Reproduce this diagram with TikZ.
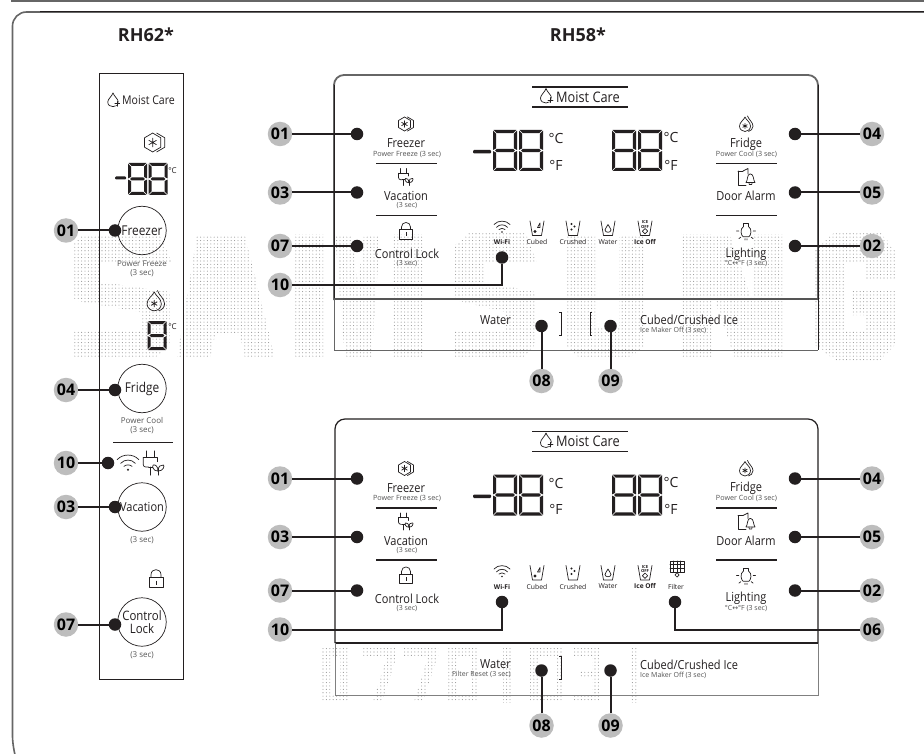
\documentclass[tikz,border=0pt]{standalone}
\usepackage{fontspec}
\setmainfont{Open Sans}[FakeStretch=0.88]
\newfontfamily\wide{Open Sans}
\newfontfamily\arrowfnt{DejaVu Sans}
\usetikzlibrary{patterns.meta,calc}
\definecolor{ink}{HTML}{231F20}
\definecolor{badgegray}{HTML}{BDBDBD}
\definecolor{frame}{HTML}{666666}
\definecolor{soft}{HTML}{555555}
\newcounter{tc}
\newcommand\T[5][]{\stepcounter{tc}\node[name=t\arabic{tc},inner sep=0,text=ink,font=\fontsize{#4}{#4}\selectfont,#1] at (#2,#3) {#5};}
\tikzset{
  ic/.style={draw=ink,line width=.7pt,line cap=round,line join=round},
  badge/.style={circle,fill=badgegray,minimum size=24.5pt,inner sep=0,text=black,font=\wide\fontsize{16}{16}\selectfont\bfseries},
  dotn/.style={circle,fill=ink,minimum size=12.5pt,inner sep=0},
  conn/.style={draw=ink,line width=2pt},
  sepl/.style={draw=ink,line width=1.8pt},
  wm/.style={pattern={Dots[radius=0.55pt,distance=3.4pt]},pattern color=gray!80},
  knob/.style={circle,draw=ink,line width=.7pt,minimum size=48.5pt,inner sep=0,text=ink,align=center,font=\fontsize{13.5}{14.5}\selectfont},
}
% seven segment digit: x y w h t
\newcommand\sevseg[5]{\begin{scope}[shift={(#1,#2)}]
 \def\sw{#3}\def\sh{#4}\def\st{#5}\def\sg{.6}
 \fill[ink] ({\sg},0)--({\sw-\sg},0)--({\sw-\sg-\st},\st)--({\sg+\st},\st)--cycle;
 \fill[ink] ({\sg},\sh)--({\sw-\sg},\sh)--({\sw-\sg-\st},{\sh-\st})--({\sg+\st},{\sh-\st})--cycle;
 \fill[ink] (0,\sg)--(\st,{\sg+\st})--(\st,{\sh/2-\sg-\st/2})--(0,{\sh/2-\sg})--cycle;
 \fill[ink] (\sw,\sg)--({\sw-\st},{\sg+\st})--({\sw-\st},{\sh/2-\sg-\st/2})--(\sw,{\sh/2-\sg})--cycle;
 \fill[ink] (0,{\sh/2+\sg})--(\st,{\sh/2+\sg+\st/2})--(\st,{\sh-\sg-\st})--(0,{\sh-\sg})--cycle;
 \fill[ink] (\sw,{\sh/2+\sg})--({\sw-\st},{\sh/2+\sg+\st/2})--({\sw-\st},{\sh-\sg-\st})--(\sw,{\sh-\sg})--cycle;
 \fill[ink] ({\sg+\st/2},{\sh/2})--({\sg+\st},{\sh/2-\st/2})--({\sw-\sg-\st},{\sh/2-\st/2})--({\sw-\sg-\st/2},{\sh/2})--({\sw-\sg-\st},{\sh/2+\st/2})--({\sg+\st},{\sh/2+\st/2})--cycle;
\end{scope}}
\newcommand\starlet{\draw[ic] (0,-3.2)--(0,3.2) (-2.8,-1.6)--(2.8,1.6) (-2.8,1.6)--(2.8,-1.6);}
\newcommand\icFreezer[3]{\begin{scope}[shift={(#1,#2)},scale=#3]
 \draw[ic] (-1,-7)--(5,-3.5)--(5,3.5)--(-1,7)--(-7,3.5)--(-7,-3.5)--cycle;
 \draw[ic] (2,-7)--(8,-3.5)--(8,3.5)--(2,7);
 \begin{scope}[shift={(-1,0)}]\starlet\end{scope}
\end{scope}}
\newcommand\icFridge[3]{\begin{scope}[shift={(#1,#2)},scale=#3]
 \draw[ic] (-1,-7) .. controls (0,-4) and (4.5,-2) .. (4.5,2.2) .. controls (4.5,5.5) and (1.5,7.5) .. (-1,7.5) .. controls (-3.5,7.5) and (-6.5,5.5) .. (-6.5,2.2) .. controls (-6.5,-2) and (-2,-4) .. (-1,-7) -- cycle;
 \draw[ic] (1.5,-8) .. controls (2.5,-4.5) and (7,-2) .. (7,2.2) .. controls (7,5) and (4.5,7.2) .. (2.5,7.4);
 \begin{scope}[shift={(-1,2)},scale=.8]\starlet\end{scope}
\end{scope}}
\newcommand\icPlug[3]{\begin{scope}[shift={(#1,#2)},scale=#3]
 \draw[ic] (-5.5,-9)--(-5.5,-4) (0,-9)--(0,-4);
 \draw[ic] (-8,-4)--(2.5,-4);
 \draw[ic,rounded corners=2.5pt] (-8,-4)--(-8,3)--(-4,3);
 \draw[ic] (2.5,-4)--(2.5,-1);
 \draw[ic] (-4,3)--(-1,3) (-3,3)--(-3,9);
 \draw[ic] (3,9)--(3,4.5);
 \draw[ic] (3,6) .. controls (-1,6) and (-1.5,2) .. (-.5,1.5) .. controls (1,1) and (3,2.5) .. (3,6);
 \draw[ic] (3,6) .. controls (7,6) and (8,2) .. (7,1.5) .. controls (5,1) and (3,2.5) .. (3,6);
\end{scope}}
\newcommand\icLock[3]{\begin{scope}[shift={(#1,#2)},scale=#3]
 \draw[ic] (-6.5,-1.5) rectangle (6.5,8);
 \draw[ic] (-4.5,-1.5)--(-4.5,-4) .. controls (-4.5,-10) and (4.5,-10) .. (4.5,-4)--(4.5,-1.5);
 \draw[draw=ink,line width=.9pt] (0,1.5)--(0,5);
\end{scope}}
\newcommand\icWifi[3]{\begin{scope}[shift={(#1,#2)},scale=#3]
 \draw[ic] (-8,-2.5) .. controls (-4,-7) and (4,-7) .. (8,-2.5);
 \draw[ic] (-5.5,.3) .. controls (-2.5,-3) and (2.5,-3) .. (5.5,.3);
 \draw[ic] (-3,2.5) .. controls (-1.5,1) and (1.5,1) .. (3,2.5);
 \fill[ink] (0,5) circle[radius=.8];
\end{scope}}
\newcommand\icGlass[3]{\begin{scope}[shift={(#1,#2)},scale=#3]
 \draw[ic] (-7,-7)--(-4.5,7.5)--(4.5,7.5)--(7,-7);
\end{scope}}
\newcommand\icCube[2]{\icGlass{#1}{#2}{1}
 \draw[ic] ({#1+3},{#2-5})--({#1+.5},{#2-.5})--({#1+3},{#2-.5})--cycle;
 \fill[ink] ({#1-2},{#2+3.5}) circle[radius=1.6];}
\newcommand\icCrush[2]{\icGlass{#1}{#2}{1}
 \fill[ink] ({#1-1.5},{#2-4}) circle[radius=1.1];
 \fill[ink] ({#1+1.5},{#2-1.5}) circle[radius=1.1];
 \fill[ink] ({#1-1.5},{#2+1.5}) circle[radius=1.1];}
\newcommand\icWater[2]{\icGlass{#1}{#2}{1}
 \draw[ic] ({#1},{#2-3.5}) .. controls ({#1+1},{#2-1}) and ({#1+3},{#2+.5}) .. ({#1+3},{#2+2}) .. controls ({#1+3},{#2+5}) and ({#1-3},{#2+5}) .. ({#1-3},{#2+2}) .. controls ({#1-3},{#2+.5}) and ({#1-1},{#2-1}) .. ({#1},{#2-3.5});}
\newcommand\icOff[2]{\icGlass{#1}{#2}{1}
 \T[font=\wide\fontsize{4.2}{4.4}\selectfont\bfseries,align=center]{#1}{#2-3.5}{4}{ICE\\OFF}
 \draw[ic] ({#1},{#2+.5})--({#1+2.7},{#2+3.2})--({#1},{#2+6})--({#1-2.7},{#2+3.2})--cycle;}
\newcommand\icDoor[3]{\begin{scope}[shift={(#1,#2)},scale=#3]
 \draw[ic] (-9,-6)--(-9,8)--(-1,8);
 \draw[ic] (-9,-6)--(-4,-6);
 \draw[ic] (-4,-6)--(1,-8.5)--(1,-3);
 \draw[ic] (3,-3) .. controls (0,-3) and (1,3) .. (-1,5.5)--(8,5.5) .. controls (6,3) and (7,-3) .. (3.5,-3);
 \draw[ic] (2,5.5)--(2.2,7.5)--(4.8,7.5)--(5,5.5);
\end{scope}}
\newcommand\icBulb[3]{\begin{scope}[shift={(#1,#2)},scale=#3]
 \draw[ic] (-2.5,-6) .. controls (-7,-3) and (-5,4) .. (-3,5)--(3,5) .. controls (5,4) and (7,-3) .. (2.5,-6);
 \draw[ic] (-2.5,-6)--(-2.5,-9)--(2.5,-9)--(2.5,-6);
 \draw[ic] (-10,-1)--(-7.5,-1) (7.5,-1)--(10,-1) (-7.5,7)--(-5.5,5.5) (7.5,7)--(5.5,5.5) (-1,8.5)--(-1,7) (1,8.5)--(1,7);
\end{scope}}
\newcommand\icMoistDrop[3]{\begin{scope}[shift={(#1,#2)},scale=#3]
 \draw[ic] (0,-7.5) .. controls (1,-4) and (5.5,-1) .. (5.5,2) .. controls (5.5,5.5) and (2.5,7) .. (0,7) .. controls (-3,7) and (-5.5,5.5) .. (-5.5,2) .. controls (-5.5,-1) and (-1,-4) .. (0,-7.5);
 \fill[white] (3,3) circle[radius=2.8];
 \draw[ic] (2,4)--(7,4) (4.5,1.5)--(4.5,6.5);
\end{scope}}
% Shared content of the RH58 control panel
\newcommand\RHpanel[2]{\begin{scope}[shift={(0,#2)}]
 \draw[sepl] (532,87)--(628,87) (532,107)--(628,107);
 \icMoistDrop{546}{96}{1}
 \T[anchor=west]{556}{97}{14.5}{Moist Care}
 \icFreezer{405.5}{124}{1}
 \T{406}{143.5}{12.5}{Freezer}
 \T[text=soft]{407}{154}{7.2}{\wide Power Freeze (3 sec)}
 \draw[sepl] (376,163.5)--(437,163.5) (376,215.5)--(437,215.5);
 \icPlug{406}{177}{.95}
 \T{406}{196}{12.5}{Vacation}
 \T[text=soft]{407}{206}{7}{\wide (3 sec)}
 \icLock{406}{231}{1}
 \T{407}{254}{12.5}{Control Lock}
 \T[text=soft]{407}{264}{7}{\wide (3 sec)}
 \fill[ink,rounded corners=1pt] (473,150) rectangle (491,153.5);
 \sevseg{493}{130}{24}{41}{3.2}
 \sevseg{519}{130}{24}{41}{3.2}
 \sevseg{612}{130}{24}{41}{3.2}
 \sevseg{638}{130}{24}{41}{3.2}
 \T{556}{139}{14}{\wide °C}
 \T{556}{165}{14}{\wide °F}
 \T{671}{138}{14}{\wide °C}
 \T{671}{165}{14}{\wide °F}
 \icWifi{502}{227}{1}
 \T[font=\wide\fontsize{6.6}{6.6}\selectfont\bfseries]{502}{242}{7}{Wi-Fi}
 \icCube{537}{228}
 \T{537}{242}{6.8}{\wide Cubed}
 \icCrush{573}{228}
 \T{573}{242}{6.8}{\wide Crushed}
 \icWater{608}{228}
 \T{608}{242}{6.8}{\wide Water}
 \icOff{645}{228}
 \T[font=\wide\fontsize{6.6}{6.6}\selectfont\bfseries]{645}{242}{7}{Ice Off}
 \icFridge{746}{124}{1}
 \T{746}{144}{12.5}{Fridge}
 \T[text=soft]{746.5}{154}{7.2}{\wide Power Cool (3 sec)}
 \draw[sepl] (716,163.5)--(777,163.5) (716,215.5)--(777,215.5);
 \icDoor{747}{177}{1}
 \T{746}{196}{12.5}{Door Alarm}
 \icBulb{746}{232}{.95}
 \T{746}{254}{12.5}{Lighting}
 \T[text=soft]{746}{264}{7}{\wide °C{\arrowfnt ↔}°F (3 sec)}
 \T[anchor=west]{640}{320}{12.5}{Cubed/Crushed Ice}
 \T[anchor=west,text=soft]{640}{330.5}{7}{\wide Ice Maker Off (3 sec)}
 \draw[ink,line width=.4pt] (559,312)--(561,312)--(561,335)--(559,335);
 % callouts
 \node[dotn] (#1d01) at (357,134) {};   \node[badge] (#1b01) at (280,134) {01};
 \node[dotn] (#1d03) at (357,192.5) {}; \node[badge] (#1b03) at (280,192.5) {03};
 \node[dotn] (#1d07) at (357,246) {};   \node[badge] (#1b07) at (280,246) {07};
 \node[dotn] (#1d10) at (502,257.5) {}; \node[badge] (#1b10) at (280,285) {10};
 \node[dotn] (#1d04) at (795,134) {};   \node[badge] (#1b04) at (872,134) {04};
 \node[dotn] (#1d05) at (795,192.5) {}; \node[badge] (#1b05) at (872,192.5) {05};
 \node[dotn] (#1d02) at (795,246) {};   \node[badge] (#1b02) at (872,246) {02};
 \node[dotn] (#1d08) at (541.5,326) {}; \node[badge] (#1b08) at (541.5,381) {08};
 \node[dotn] (#1d09) at (610.5,326) {}; \node[badge] (#1b09) at (610.5,381) {09};
 \draw[conn] (#1b01)--(#1d01) (#1b03)--(#1d03) (#1b07)--(#1d07);
 \draw[conn] (#1b04)--(#1d04) (#1b05)--(#1d05) (#1b02)--(#1d02);
 \draw[conn] (#1b08)--(#1d08) (#1b09)--(#1d09);
 \draw[conn] (#1b10)--(#1b10-|#1d10)--(#1d10);
\end{scope}}
\begin{document}
\begin{tikzpicture}[x=1pt,y=-1pt]
\useasboundingbox (0,0) rectangle (924,754);
\fill[white] (0,0) rectangle (924,754);
% ---- dotted background lettering
\fill[wm] (82,235)--(160,235)--(172,262)--(100,262)--(100,282)--(170,292)--(170,345)--(155,358)--(72,358)--(72,330)--(140,330)--(140,312)--(72,300)--(72,245)--cycle;
\fill[wm] (197,235)--(245,235)--(275,358)--(245,358)--(240,335)--(215,335)--(210,358)--(177,358)--cycle;
\fill[wm] (295,235) rectangle (323,358);
\fill[wm] (335,235)--(352,235)--(358,285)--(364,235)--(380,235)--(372,358)--(345,358)--cycle;
\fill[wm] (393,235) rectangle (423,358);
\fill[wm] (470,232)--(525,232)--(537,262)--(485,262)--(485,282)--(535,292)--(535,345)--(522,358)--(455,358)--(455,330)--(505,330)--(505,312)--(455,300)--(455,245)--cycle;
\fill[wm] (565,235)--(595,235)--(595,328)--(619,328)--(619,235)--(645,235)--(645,345)--(630,358)--(580,358)--(565,345)--cycle;
\fill[wm] (682,235) rectangle (713,358);
\fill[wm] (752,235) rectangle (782,358);
\fill[wm] (713,235)--(730,235)--(752,300)--(752,358)--(735,358)--(713,295)--cycle;
\fill[wm] (835,232)--(880,232)--(895,250)--(895,280)--(865,280)--(865,262)--(845,262)--(845,330)--(865,330)--(865,315)--(852,315)--(852,290)--(895,290)--(895,345)--(880,360)--(835,360)--(815,345)--(815,250)--cycle;
% lower lettering
\fill[wm,even odd rule] (322,648) rectangle (348,702) (330,656) rectangle (340,694);
\fill[wm] (363,648)--(397,648)--(397,656)--(382,702)--(373,702)--(387,656)--(363,656)--cycle;
\fill[wm] (403,648)--(438,648)--(438,656)--(423,702)--(414,702)--(428,656)--(403,656)--cycle;
\fill[wm,even odd rule] (448,648) rectangle (478,702) (456,656) rectangle (470,694);
\fill[wm] (503,648) rectangle (512,702);
\fill[wm,even odd rule] (530,648) rectangle (563,702) (538,656) rectangle (555,694);
\fill[wm] (572,648)--(600,648)--(600,702)--(572,702)--(572,694)--(592,694)--(592,678)--(580,678)--(580,670)--(592,670)--(592,656)--(572,656)--cycle;
\fill[wm] (630,648) rectangle (637,702);
% ---- outer frame
\draw[frame,line width=1.8pt] (11,.8)--(924,.8);
\draw[frame,line width=1.6pt,rounded corners=14pt] (17,762)--(12.5,750)--(12.5,12)--(932,12);
\draw[ink,line width=.9pt] (40,11.7)--(924,11.7);
% ---- titles
\T[font=\wide\fontsize{18}{18}\selectfont\bfseries]{146}{35}{18}{RH62*}
\T[font=\wide\fontsize{18}{18}\selectfont\bfseries]{578}{35}{18}{RH58*}
% ---- RH62 strip
\draw[ink,line width=1pt] (99.5,74) rectangle (183,679);
\icMoistDrop{113}{100}{.95}
\T[anchor=west]{122}{100}{12}{Moist Care}
\icFreezer{154}{142.5}{1.35}
\fill[ink,rounded corners=1pt] (115,176.5) rectangle (126,179.5);
\sevseg{128}{163}{19}{32}{3}
\sevseg{148.5}{163}{19}{32}{3}
\T{172.5}{170.5}{8}{\wide °C}
\node[knob] (kf) at (142,230.5) {Freezer};
\T[text=soft]{142}{264}{8}{\wide Power Freeze}
\T[text=soft]{142}{273}{8}{\wide (3 sec)}
\icFridge{155.5}{301}{1.3}
\sevseg{147.5}{321}{19}{29}{3}
\T{172.5}{327}{8}{\wide °C}
\node[knob] (kc) at (142,388.5) {Fridge};
\T[text=soft]{142}{420.5}{8}{\wide Power Cool}
\T[text=soft]{142}{430}{8}{\wide (3 sec)}
\draw[ink,line width=.4pt] (113,442.5)--(172.5,442.5);
\icWifi{128}{463}{1.35}
\icPlug{154}{463}{1.35}
\node[knob,font=\fontsize{12.5}{14.5}\selectfont] (kv) at (142,507) {Vacation};
\T[text=soft]{142}{540}{8}{\wide (3 sec)}
\icLock{156}{579}{1.1}
\node[knob,font=\fontsize{13}{12.5}\selectfont] (kl) at (142,622) {Control\\Lock};
\T[text=soft]{142}{655}{8}{\wide (3 sec)}
\node[dotn] (sd01) at (115,230.5) {}; \node[badge] (sb01) at (66,230.5) {01};
\node[dotn] (sd04) at (115,390) {};   \node[badge] (sb04) at (66,390) {04};
\node[dotn] (sd10) at (108,463) {};   \node[badge] (sb10) at (66,463) {10};
\node[dotn] (sd03) at (115,507) {};   \node[badge] (sb03) at (66,507) {03};
\node[dotn] (sd07) at (115,624.5) {}; \node[badge] (sb07) at (66,624.5) {07};
\draw[conn] (sb01)--(sd01) (sb04)--(sd04) (sb10)--(sd10) (sb03)--(sd03) (sb07)--(sd07);
% ---- RH58 upper panel frame
\draw[frame,line width=1.8pt,rounded corners=10pt] (334,300)--(334,75)--(818,75)--(818,300);
\draw[ink,line width=1pt] (334,85)--(334,299) (818,85)--(818,350);
\draw[soft,line width=2pt] (334,299)--(818,299);
\draw[frame,line width=1pt] (334,299)--(334,350)--(818,350);
\RHpanel{u}{0}
\draw[ink,line width=.4pt] (592,312)--(590.5,312)--(590.5,335)--(592,335);
\T[anchor=east]{511}{320}{12.5}{Water}
% ---- RH58 lower panel frame
\draw[ink,line width=1.2pt,rounded corners=10pt] (335,643)--(335,419)--(818,419)--(818,643);
\draw[ink,line width=1.6pt] (335,643)--(818,643);
\draw[gray,line width=1pt] (335,643)--(335,695)--(818,695)--(818,643);
\RHpanel{l}{344.5}
\T[anchor=east]{511}{664.5}{12.5}{Water}
\T[anchor=east,text=soft]{511}{674.5}{7}{\wide Filter Reset (3 sec)}
\draw[ic] (670,561) rectangle (684,572) (670,564.7)--(684,564.7) (670,568.4)--(684,568.4) (673.5,561)--(673.5,572) (677,561)--(677,572) (680.5,561)--(680.5,572);
\draw[ic] (677,572.5)--(679,575)--(677,577)--(675,575)--cycle;
\T{676}{586.5}{6.8}{\wide Filter}
\node[dotn] (ld06) at (675,602) {};
\node[badge] (lb06) at (872,629.5) {06};
\draw[conn] (ld06)--(ld06|-lb06)--(lb06);
\end{tikzpicture}
\end{document}
